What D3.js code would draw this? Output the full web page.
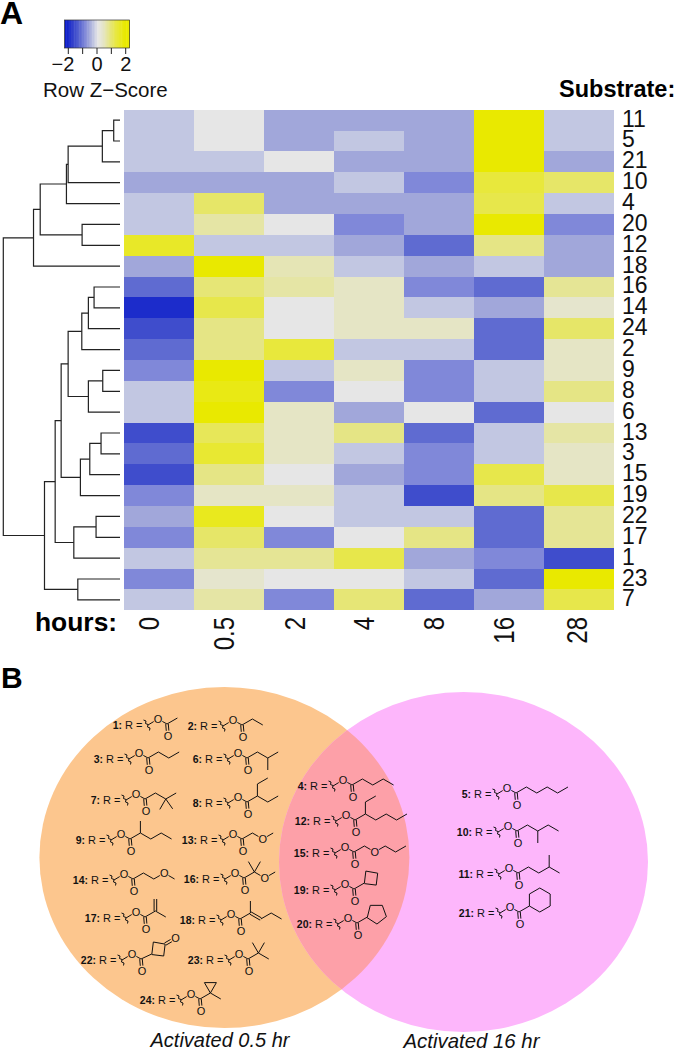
<!DOCTYPE html>
<html>
<head>
<meta charset="utf-8">
<script src="https://cdn.jsdelivr.net/npm/d3@7"></script>
<style>
  body { margin: 0; background: #fff; }
  svg { display: block; font-family: "Liberation Sans", Arial, sans-serif; }
</style>
</head>
<body>
<div id="chart"></div>
<script>
// heatmap values, row order top to bottom
const substrates = [11, 5, 21, 10, 4, 20, 12, 18, 16, 14, 24, 2, 9, 8, 6, 13, 3, 15, 19, 22, 17, 1, 23, 7];
const hours = ["0", "0.5", "2", "4", "8", "16", "28"];
const zScores = [
  [-0.3, 0, -0.6, -0.6, -0.6, 1.9, -0.3],
  [-0.3, 0, -0.6, -0.3, -0.6, 1.9, -0.3],
  [-0.3, -0.3, 0, -0.6, -0.6, 1.9, -0.6],
  [-0.6, -0.6, -0.6, -0.3, -0.9, 1.3, 1.0],
  [-0.3, 1.0, -0.6, -0.6, -0.6, 1.2, -0.3],
  [-0.3, 0.6, 0, -0.9, -0.6, 1.9, -0.9],
  [1.5, -0.3, -0.3, -0.6, -1.2, 0.8, -0.6],
  [-0.6, 1.9, 0.5, -0.3, -0.6, -0.3, -0.6],
  [-1.2, 0.9, 0.6, 0.4, -0.9, -1.2, 0.7],
  [-2, 1.2, 0, 0.4, -0.3, -0.6, 0.3],
  [-1.6, 0.8, 0, 0.4, 0.4, -1.2, 1.0],
  [-1.2, 0.8, 1.3, -0.3, -0.3, -1.2, 0.4],
  [-0.9, 1.9, -0.3, 0.4, -0.9, -0.3, 0.4],
  [-0.3, 1.7, -0.9, 0, -0.9, -0.3, 0.8],
  [-0.3, 1.9, 0.4, -0.6, 0, -1.2, 0],
  [-1.6, 1.1, 0.4, 0.8, -1.2, -0.3, 0.6],
  [-1.2, 1.4, 0.4, -0.3, -0.9, -0.3, 0.4],
  [-1.6, 0.8, 0, -0.6, -0.9, 1.2, 0.4],
  [-0.9, 0.4, 0.4, -0.3, -1.6, 0.8, 1.2],
  [-0.6, 1.6, 0, -0.3, -0.3, -1.2, 0.7],
  [-0.9, 1.0, -0.9, 0, 0.8, -1.2, 0.7],
  [-0.3, 0.7, 0.7, 1.2, -0.6, -0.9, -1.6],
  [-0.9, 0.3, 0, 0, -0.3, -1.2, 1.9],
  [-0.3, 0.6, -0.9, 0.9, -1.2, -0.6, 1.2]
];
const zStops = [-2.3, -2, -1.6, -1.2, -0.9, -0.6, -0.3, 0, 0.4, 0.8, 1.3, 1.9, 2.3];
const zColors = ["#0a1ac8", "#1c2ccb", "#3f4dcc", "#5f6bd1", "#8088d9", "#a1a7da", "#c2c7e2",
  "#e6e6e6", "#e5e5c5", "#e5e585", "#e8e83c", "#e9e900", "#e9e900"];
const legendTicks = [-2, -1, 0, 1, 2];
const legendLabels = [-2, 0, 2];

// dendrogram: [merge height, left, right], leaves are substrate numbers
const dendro = [117,
  [86.7,
    [80,
      [53.7, [52, [17.7, [6.3, 11, 5], 21], 10], 4],
      [38, 20, 12]],
    18],
  [75.7,
    [65,
      [59,
        [52,
          [38.3, [31.7, [26, 16, 14], 24], 2],
          [31.7, [17.3, 9, 8], 6]],
        [39.7, [30.3, [19, 13, 3], 15], 19]],
      [46.3, [24, 22, 17], 1]],
    [42.3, 23, 7]]
];

// venn panel
const activatedEarly = [1, 2, 3, 6, 7, 8, 9, 13, 14, 16, 17, 18, 22, 23, 24];
const activatedBoth = [4, 12, 15, 19, 20];
const activatedLate = [5, 10, 11, 21];
// acyl groups as bond angles from the carbonyl carbon, "(" ")" branch, O atom, = double bond
const acyl = {
  1: "30",
  2: "30 -30",
  3: "30 -30 30",
  4: "30 -30 30 -30",
  5: "30 -30 30 -30 30",
  6: "30 -30 ( 30 ) -90",
  7: "30 -30 ( 30 ) ( -55 ) -120",
  8: "30 ( 90 30 ) -30 30",
  9: "30 ( 90 ) -30 30 -30",
  10: "30 -30 ( -90 ) 30 -30",
  11: "30 -30 30 ( 90 ) -30",
  12: "30 ( 90 30 ) -30 30 -30 30",
  13: "30 -30 O 30",
  14: "30 -30 30 O -30",
  15: "30 -30 O 30 -30 30",
  16: "30 ( 60 ) ( 120 ) -30 O 30",
  17: "30 ( = 90 ) -30",
  18: "30 ( 90 ) = -30 30 -30",
  19: "30 ( 83 -10 -97 173 )",
  20: "30 ( 76 0 -70 -142 147 )",
  21: "30 ( 90 30 -30 -90 -150 150 )",
  22: "25 ( 83 -10 ( = 30 O ) -97 173 )",
  23: "30 ( 60 ) ( 120 ) -30",
  24: "30 ( -30 ) 120 0 -120"
};
// squiggle position of each structure in the venn
const anchors = {
  1: [147, 725], 2: [222, 726], 3: [128, 759], 6: [227, 759], 7: [125, 800], 8: [227, 803],
  9: [110, 840], 13: [222, 840], 14: [113, 880], 16: [224, 879], 17: [125, 918], 18: [220, 920],
  22: [121, 960], 23: [228, 960], 24: [180, 1000], 4: [332, 786], 12: [335, 821], 15: [334, 853],
  19: [334, 890], 20: [337, 924], 5: [496, 794], 10: [497, 832], 11: [498, 874], 21: [499, 913]
};

const svg = d3.select("#chart").append("svg").attr("width", 675).attr("height", 1050);

const x = d3.scaleBand().domain(hours).range([124.3, 613.5]);
const y = d3.scaleBand().domain(substrates).range([109.7, 610.3]);
const color = d3.scaleLinear().domain(zStops).range(zColors);

svg.append("text").attr("x", 0).attr("y", 24).attr("font-size", 32).attr("font-weight", "bold").text("A");
svg.append("text").attr("x", 1).attr("y", 687.5).attr("font-size", 30).attr("font-weight", "bold").text("B");

// heatmap cells
svg.append("g").selectAll("g")
  .data(zScores)
  .enter().append("g")
  .attr("transform", (d, i) => "translate(0," + y(substrates[i]) + ")")
  .selectAll("rect")
  .data(d => d)
  .enter().append("rect")
  .attr("x", (d, i) => x(hours[i]))
  .attr("width", x.bandwidth())
  .attr("height", y.bandwidth())
  .attr("shape-rendering", "crispEdges")
  .attr("fill", d => color(d));

// row labels
svg.append("g").selectAll("text")
  .data(substrates)
  .enter().append("text")
  .attr("x", 622)
  .attr("y", d => y(d) + y.bandwidth() / 2 + 6.5)
  .attr("font-size", 23)
  .attr("fill", "#111")
  .text(d => d);

// column labels, stretched across the text like the original
const hourNudge = [0, 5, 6, 5, 5, 5, 8];
svg.append("g").selectAll("text")
  .data(hours)
  .enter().append("text")
  .attr("transform", (d, i) => "translate(" + (x(d) + x.bandwidth() / 2 + hourNudge[i]) + ",617) rotate(-90) scale(1,1.2)")
  .attr("text-anchor", "end")
  .attr("font-size", 24)
  .attr("fill", "#111")
  .text(d => d);

svg.append("text").attr("x", 35).attr("y", 631).attr("font-size", 26.4).attr("font-weight", "bold").text("hours:");
svg.append("text").attr("x", 559).attr("y", 97).attr("font-size", 23.5).attr("font-weight", "bold").text("Substrate:");

// colour key
const keyX = d3.scaleLinear().domain([-2, 2]).range([68.3, 125.7]);
const keySteps = d3.range(-2.26, 2.26, 4.52 / 40);
svg.append("g").selectAll("rect")
  .data(keySteps)
  .enter().append("rect")
  .attr("x", d => keyX(d))
  .attr("y", 20)
  .attr("width", keyX(4.52 / 40) - keyX(0) + 0.5)
  .attr("height", 28)
  .attr("fill", d => color(d));
svg.append("rect")
  .attr("x", keyX(-2.26)).attr("y", 20)
  .attr("width", keyX(2.26) - keyX(-2.26)).attr("height", 28)
  .attr("fill", "none").attr("stroke", "#333").attr("stroke-width", 0.7);
svg.append("g").selectAll("line")
  .data(legendTicks)
  .enter().append("line")
  .attr("x1", d => keyX(d)).attr("x2", d => keyX(d))
  .attr("y1", 48).attr("y2", 54)
  .attr("stroke", "#222").attr("stroke-width", 1);
svg.append("g").selectAll("text")
  .data(legendLabels)
  .enter().append("text")
  .attr("x", d => keyX(d))
  .attr("y", 71)
  .attr("text-anchor", d => d < 0 ? "end" : "middle")
  .attr("dx", d => d < 0 ? 6 : 0)
  .attr("font-size", 20)
  .attr("fill", "#111")
  .text(d => d < 0 ? "\u2212" + Math.abs(d) : d);
svg.append("text").attr("x", 43).attr("y", 97).attr("font-size", 20.5).attr("fill", "#111").text("Row Z\u2212Score");

// dendrogram
const root = d3.hierarchy(dendro, d => Array.isArray(d) ? d.slice(1) : null);
const dendroX = d3.scaleLinear().domain([0, 117]).range([120, 3.3]);
root.eachAfter(n => {
  if (n.children) {
    n.py = d3.mean(n.children, c => c.py);
    n.px = dendroX(n.data[0]);
  } else {
    n.py = y(n.data) + y.bandwidth() / 2;
    n.px = dendroX(0);
  }
});
svg.append("g").selectAll("path")
  .data(root.descendants().filter(n => n.children))
  .enter().append("path")
  .attr("fill", "none")
  .attr("stroke", "#222")
  .attr("stroke-width", 1.2)
  .attr("d", n => {
    const [a, b] = n.children;
    return "M" + a.px + "," + a.py + "H" + n.px + "V" + b.py + "H" + b.px;
  });

// venn
const vennLeft = { cx: 224.4, cy: 857.5, rx: 185, ry: 170.5 };
const vennRight = { cx: 463.5, cy: 862, rx: 184.5, ry: 170 };
svg.append("clipPath").attr("id", "clip-left").append("ellipse").attr("cx", vennLeft.cx).attr("cy", vennLeft.cy).attr("rx", vennLeft.rx).attr("ry", vennLeft.ry);
svg.append("ellipse").attr("cx", vennLeft.cx).attr("cy", vennLeft.cy).attr("rx", vennLeft.rx).attr("ry", vennLeft.ry).attr("fill", "#fcc68e");
svg.append("ellipse").attr("cx", vennRight.cx).attr("cy", vennRight.cy).attr("rx", vennRight.rx).attr("ry", vennRight.ry).attr("fill", "#fdb6fb");
svg.append("ellipse").attr("cx", vennRight.cx).attr("cy", vennRight.cy).attr("rx", vennRight.rx).attr("ry", vennRight.ry)
  .attr("fill", "#fda0a8").attr("clip-path", "url(#clip-left)");

svg.append("text").attr("x", 220).attr("y", 1046.5).attr("text-anchor", "middle").attr("font-size", 20).attr("font-style", "italic").attr("fill", "#111").text("Activated 0.5 hr");
svg.append("text").attr("x", 471.5).attr("y", 1048).attr("text-anchor", "middle").attr("font-size", 20.4).attr("font-style", "italic").attr("fill", "#111").text("Activated 16 hr");

// turn an acyl string into bonds and atoms
const bondLen = 12;
function parseAcyl(str, start) {
  const bonds = [], atoms = [], stack = [];
  let cur = start, dbl = false;
  str.split(" ").forEach(tok => {
    if (tok === "(") stack.push(cur);
    else if (tok === ")") cur = stack.pop();
    else if (tok === "=") dbl = true;
    else if (tok === "O") { atoms.push(cur); bonds[bonds.length - 1].endO = true; }
    else {
      const a = +tok * Math.PI / 180;
      const next = [cur[0] + bondLen * Math.cos(a), cur[1] - bondLen * Math.sin(a)];
      const fromO = atoms.some(p => p === cur);
      bonds.push({ a: cur, b: next, dbl, fromO, endO: false });
      cur = next;
      dbl = false;
    }
  });
  return { bonds, atoms };
}

function drawBond(g, bond) {
  const dx = bond.b[0] - bond.a[0], dy = bond.b[1] - bond.a[1];
  const len = Math.hypot(dx, dy);
  const ux = dx / len, uy = dy / len;
  const s = bond.fromO ? 5 : 0, e = bond.endO ? 5 : 0;
  const offs = bond.dbl ? [-1.3, 1.3] : [0];
  offs.forEach(o => {
    g.append("line")
      .attr("x1", bond.a[0] + ux * s - uy * o).attr("y1", bond.a[1] + uy * s + ux * o)
      .attr("x2", bond.b[0] - ux * e - uy * o).attr("y2", bond.b[1] - uy * e + ux * o)
      .attr("stroke", "#111").attr("stroke-width", 1);
  });
}

function drawAtom(g, p) {
  g.append("text").attr("x", p[0]).attr("y", p[1] + 4)
    .attr("text-anchor", "middle").attr("font-size", 11).attr("fill", "#111").text("O");
}

const vennIds = activatedEarly.concat(activatedBoth, activatedLate);
svg.append("g").selectAll("g")
  .data(vennIds)
  .enter().append("g")
  .each(function (id) {
    const g = d3.select(this);
    const [px, py] = anchors[id];
    const label = g.append("text").attr("x", px - 4.5).attr("y", py + 4)
      .attr("text-anchor", "end").attr("font-size", 11).attr("fill", "#111");
    label.append("tspan").attr("font-weight", "bold").attr("font-size", 10.5).text(id + ":");
    label.append("tspan").text(" R =");
    // wavy attachment mark
    g.append("path").attr("fill", "none").attr("stroke", "#111").attr("stroke-width", 1)
      .attr("d", "M" + (px - 3.5) + "," + (py - 5) + "l2.5,1l-0.5,2.5l2.5,1l-0.5,2.5l2.5,1l-0.5,2.5");
    const oxy = [px + 11, py - 6], carb = [px + 20, py - 1], oxo = [px + 21, py + 10.7];
    drawBond(g, { a: [px + 1, py], b: oxy, endO: true });
    drawBond(g, { a: oxy, b: carb, fromO: true });
    drawBond(g, { a: carb, b: oxo, dbl: true, endO: true });
    drawAtom(g, oxy);
    drawAtom(g, oxo);
    const mol = parseAcyl(acyl[id], carb);
    mol.bonds.forEach(b => drawBond(g, b));
    mol.atoms.forEach(p => drawAtom(g, p));
  });
</script>
</body>
</html>
